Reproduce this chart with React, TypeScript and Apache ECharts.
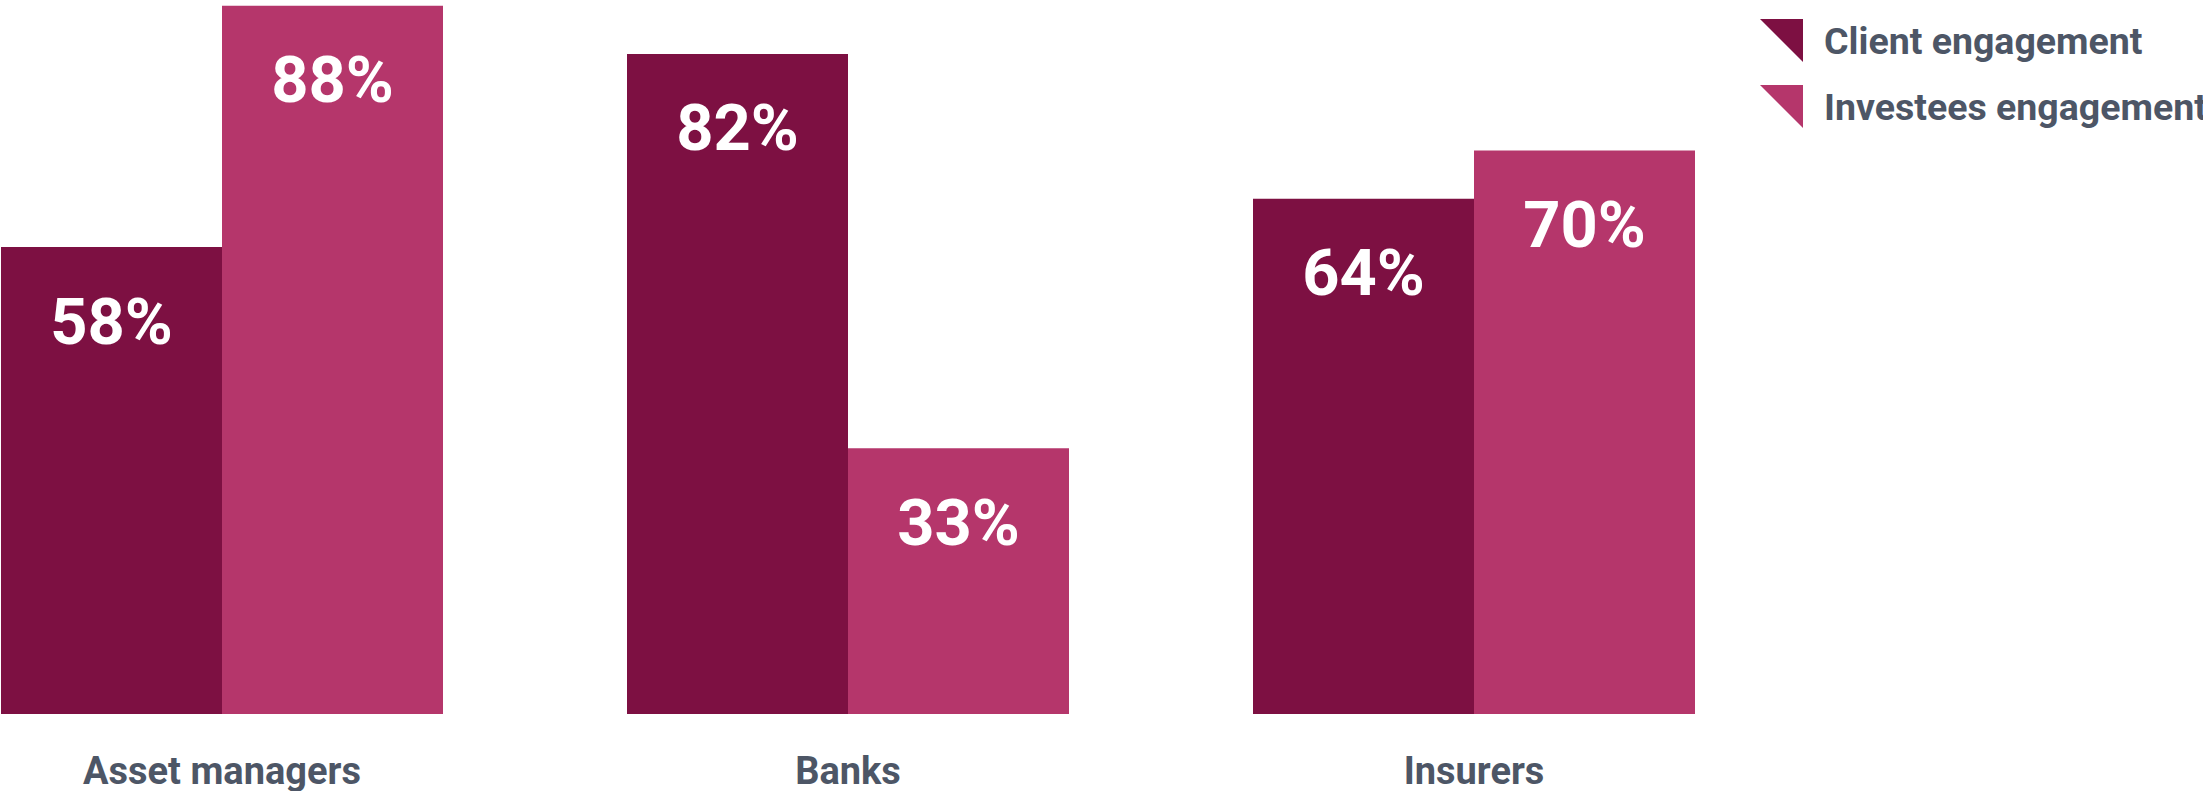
import React, { useEffect, useRef } from "react";
import * as echarts from "echarts";

const categories = ["Asset managers", "Banks", "Insurers"];
const clientEngagement = [58, 82, 64];
const investeesEngagement = [88, 33, 70];
const seriesNames = ["Client engagement", "Investees engagement"];

const DARK = "#7D1042";
const PINK = "#B5366B";
const TEXT = "#4D5666";
const SHIFT = 91;

export default function App() {
  const ref = useRef<HTMLDivElement>(null);
  useEffect(() => {
    if (!ref.current) return;
    const chart = echarts.init(ref.current, undefined, { renderer: "svg" });
    const label = {
      show: true,
      position: "insideTop",
      distance: 42,
      color: "#ffffff",
      fontFamily: "Roboto",
      fontWeight: "bold",
      fontSize: 65,
      lineHeight: 65,
      formatter: (p: any) => p.value + "%",
    };
    chart.setOption({
      animation: false,
      backgroundColor: "#ffffff",
      legend: {
        orient: "vertical",
        left: 1755 + SHIFT,
        top: 14,
        itemWidth: 45,
        itemHeight: 43,
        itemGap: 23,
        icon: "path://M0,0L10,0L10,10Z",
        textStyle: {
          color: TEXT,
          fontFamily: "Roboto",
          fontWeight: "bold",
          fontSize: 37.5,
          padding: [0, 0, 14, 15],
        },
        data: seriesNames,
      },
      grid: { left: 0, width: 1878, top: 0, bottom: 77, containLabel: false },
      xAxis: {
        type: "category",
        data: categories,
        axisLine: { show: false },
        axisTick: { show: false },
        axisLabel: {
          margin: 38,
          color: TEXT,
          fontFamily: "Roboto",
          fontWeight: "bold",
          fontSize: 38,
          lineHeight: 38,
        },
      },
      yAxis: {
        type: "value",
        min: 0,
        max: 88.7,
        show: false,
        splitLine: { show: false },
      },
      series: [
        {
          name: seriesNames[0],
          type: "bar",
          data: clientEngagement,
          barWidth: 221,
          barGap: "0%",
          itemStyle: { color: DARK },
          label,
        },
        {
          name: seriesNames[1],
          type: "bar",
          data: investeesEngagement,
          barWidth: 221,
          barGap: "0%",
          itemStyle: { color: PINK },
          label,
        },
      ],
    });
    return () => chart.dispose();
  }, []);
  return (
    <div style={{ position: "absolute", left: 0, top: 0, width: 2203, height: 791, overflow: "hidden" }}>
      <div
        ref={ref}
        style={{ position: "absolute", left: -SHIFT, top: 0, width: 2203 + SHIFT, height: 791 }}
      />
    </div>
  );
}
